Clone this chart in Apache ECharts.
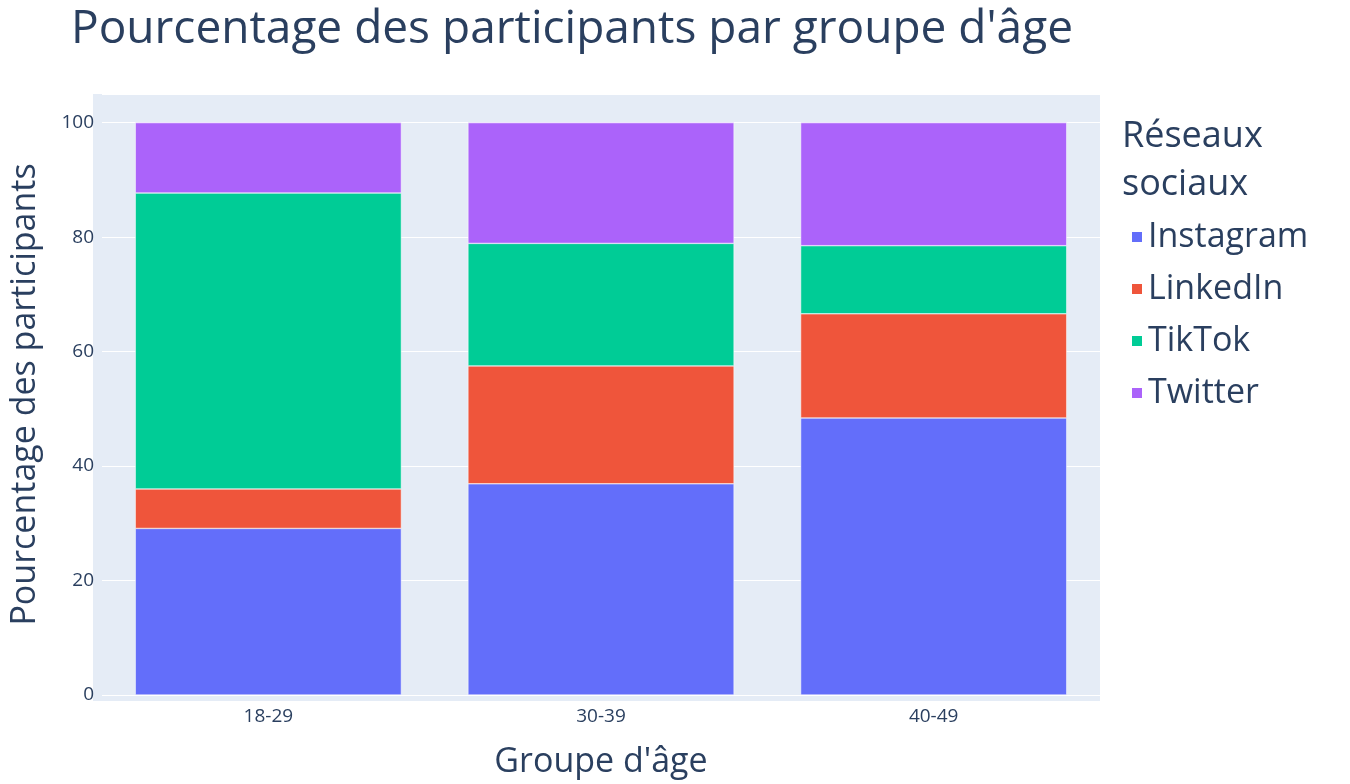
<!DOCTYPE html><html><head><meta charset="utf-8"><script src="https://cdn.jsdelivr.net/npm/echarts@6/dist/echarts.min.js"></script></head><body style="margin:0"><div id="c" style="width:1350px;height:784px"></div><script>
const categories=['18-29','30-39','40-49'];
const instagram=[29.1,36.9,48.4];
const linkedin=[6.9,20.6,18.2];
const tiktok=[51.7,21.4,11.9];
const twitter=[12.3,21.1,21.5];
const font='"Open Sans", "Noto Sans", sans-serif';
const mk=(n,d,c)=>({name:n,type:'bar',stack:'a',data:d,barCategoryGap:'20%',itemStyle:{color:c,borderColor:'#fff',borderWidth:0.5},emphasis:{disabled:true}});
const ch=echarts.init(document.getElementById('c'));
ch.setOption({backgroundColor:'#fff',textStyle:{fontFamily:font},
title:{text:"Pourcentage des participants par groupe d'âge",left:66,top:2,textStyle:{fontFamily:font,fontSize:46,fontWeight:'normal',color:'#2a3f5f'}},
graphic:[{type:'text',left:1122,top:113,style:{text:'Réseaux\nsociaux',font:'36px '+font,fill:'#2a3f5f',lineHeight:48}}],
legend:{orient:'vertical',left:1125,top:215,itemWidth:12,itemHeight:12,itemGap:18,icon:'rect',textStyle:{fontSize:34,color:'#2a3f5f',fontFamily:font}},
grid:{left:93,right:250,top:94,bottom:83},
xAxis:{type:'category',data:categories,name:"Groupe d'âge",nameLocation:'middle',nameGap:50,nameTextStyle:{fontSize:34,color:'#2a3f5f'},axisLine:{show:false},axisTick:{show:false},axisLabel:{fontSize:19,color:'#2a3f5f',margin:12}},
yAxis:{type:'value',min:0,max:105,interval:20,name:'Pourcentage des participants',nameLocation:'middle',nameGap:60,nameTextStyle:{fontSize:34,color:'#2a3f5f'},axisLabel:{fontSize:19,color:'#2a3f5f',showMaxLabel:false},splitLine:{lineStyle:{color:'#fff',width:1}}},
series:[mk('Instagram',instagram,'#636efa'),mk('LinkedIn',linkedin,'#ef553b'),mk('TikTok',tiktok,'#00cc96'),mk('Twitter',twitter,'#ab63fa')]});
ch.getZr().add(new echarts.graphic.Rect({shape:{x:93,y:94,width:1007,height:607},style:{fill:'#e5ecf6'},z:-10}));
</script></body></html>
